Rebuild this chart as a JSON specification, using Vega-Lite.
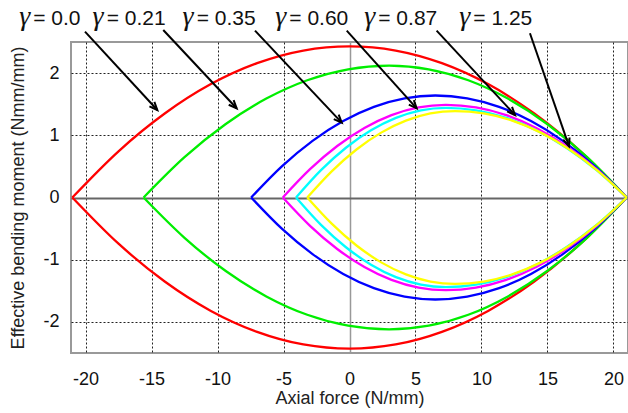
{
  "$schema": "https://vega.github.io/schema/vega-lite/v6.json",
  "width": 557,
  "height": 311,
  "autosize": {"type": "none"},
  "padding": {"left": 71, "top": 42, "right": 0, "bottom": 60},
  "background": "white",
  "config": {
    "view": {"stroke": "#999", "strokeWidth": 2},
    "font": "Liberation Sans"
  },
  "datasets": {
    "curves": [
      {"g":"0.0","s":"t","N":-21,"M":0},{"g":"0.0","s":"t","N":-17.5,"M":0.743},{"g":"0.0","s":"t","N":-14,"M":1.35},{"g":"0.0","s":"t","N":-10.5,"M":1.823},{"g":"0.0","s":"t","N":-7,"M":2.16},{"g":"0.0","s":"t","N":-3.5,"M":2.363},{"g":"0.0","s":"t","N":0,"M":2.43},{"g":"0.0","s":"t","N":3.5,"M":2.363},{"g":"0.0","s":"t","N":7,"M":2.16},{"g":"0.0","s":"t","N":10.5,"M":1.823},{"g":"0.0","s":"t","N":14,"M":1.35},{"g":"0.0","s":"t","N":17.5,"M":0.743},{"g":"0.0","s":"t","N":21,"M":0},
      {"g":"0.0","s":"b","N":-21,"M":0},{"g":"0.0","s":"b","N":-17.5,"M":-0.743},{"g":"0.0","s":"b","N":-14,"M":-1.35},{"g":"0.0","s":"b","N":-10.5,"M":-1.823},{"g":"0.0","s":"b","N":-7,"M":-2.16},{"g":"0.0","s":"b","N":-3.5,"M":-2.363},{"g":"0.0","s":"b","N":0,"M":-2.43},{"g":"0.0","s":"b","N":3.5,"M":-2.363},{"g":"0.0","s":"b","N":7,"M":-2.16},{"g":"0.0","s":"b","N":10.5,"M":-1.823},{"g":"0.0","s":"b","N":14,"M":-1.35},{"g":"0.0","s":"b","N":17.5,"M":-0.743},{"g":"0.0","s":"b","N":21,"M":0},
      {"g":"0.21","s":"t","N":-15.6,"M":0},{"g":"0.21","s":"t","N":-12.5,"M":0.648},{"g":"0.21","s":"t","N":-9.4,"M":1.178},{"g":"0.21","s":"t","N":-6.3,"M":1.59},{"g":"0.21","s":"t","N":-3.2,"M":1.885},{"g":"0.21","s":"t","N":-0.1,"M":2.061},{"g":"0.21","s":"t","N":3,"M":2.12},{"g":"0.21","s":"t","N":6,"M":2.061},{"g":"0.21","s":"t","N":9,"M":1.885},{"g":"0.21","s":"t","N":12,"M":1.59},{"g":"0.21","s":"t","N":15,"M":1.178},{"g":"0.21","s":"t","N":18,"M":0.648},{"g":"0.21","s":"t","N":21,"M":0},
      {"g":"0.21","s":"b","N":-15.6,"M":0},{"g":"0.21","s":"b","N":-12.5,"M":-0.648},{"g":"0.21","s":"b","N":-9.4,"M":-1.178},{"g":"0.21","s":"b","N":-6.3,"M":-1.59},{"g":"0.21","s":"b","N":-3.2,"M":-1.885},{"g":"0.21","s":"b","N":-0.1,"M":-2.061},{"g":"0.21","s":"b","N":3,"M":-2.12},{"g":"0.21","s":"b","N":6,"M":-2.061},{"g":"0.21","s":"b","N":9,"M":-1.885},{"g":"0.21","s":"b","N":12,"M":-1.59},{"g":"0.21","s":"b","N":15,"M":-1.178},{"g":"0.21","s":"b","N":18,"M":-0.648},{"g":"0.21","s":"b","N":21,"M":0},
      {"g":"0.35","s":"t","N":-7.45,"M":0},{"g":"0.35","s":"t","N":-5.125,"M":0.501},{"g":"0.35","s":"t","N":-2.8,"M":0.911},{"g":"0.35","s":"t","N":-0.475,"M":1.23},{"g":"0.35","s":"t","N":1.85,"M":1.458},{"g":"0.35","s":"t","N":4.175,"M":1.594},{"g":"0.35","s":"t","N":6.5,"M":1.64},{"g":"0.35","s":"t","N":8.917,"M":1.594},{"g":"0.35","s":"t","N":11.333,"M":1.458},{"g":"0.35","s":"t","N":13.75,"M":1.23},{"g":"0.35","s":"t","N":16.167,"M":0.911},{"g":"0.35","s":"t","N":18.583,"M":0.501},{"g":"0.35","s":"t","N":21,"M":0},
      {"g":"0.35","s":"b","N":-7.45,"M":0},{"g":"0.35","s":"b","N":-5.125,"M":-0.501},{"g":"0.35","s":"b","N":-2.8,"M":-0.911},{"g":"0.35","s":"b","N":-0.475,"M":-1.23},{"g":"0.35","s":"b","N":1.85,"M":-1.458},{"g":"0.35","s":"b","N":4.175,"M":-1.594},{"g":"0.35","s":"b","N":6.5,"M":-1.64},{"g":"0.35","s":"b","N":8.917,"M":-1.594},{"g":"0.35","s":"b","N":11.333,"M":-1.458},{"g":"0.35","s":"b","N":13.75,"M":-1.23},{"g":"0.35","s":"b","N":16.167,"M":-0.911},{"g":"0.35","s":"b","N":18.583,"M":-0.501},{"g":"0.35","s":"b","N":21,"M":0},
      {"g":"0.60","s":"t","N":-5.05,"M":0},{"g":"0.60","s":"t","N":-2.99,"M":0.455},{"g":"0.60","s":"t","N":-0.93,"M":0.828},{"g":"0.60","s":"t","N":1.13,"M":1.118},{"g":"0.60","s":"t","N":3.18,"M":1.325},{"g":"0.60","s":"t","N":5.24,"M":1.449},{"g":"0.60","s":"t","N":7.3,"M":1.49},{"g":"0.60","s":"t","N":9.58,"M":1.449},{"g":"0.60","s":"t","N":11.87,"M":1.325},{"g":"0.60","s":"t","N":14.15,"M":1.118},{"g":"0.60","s":"t","N":16.43,"M":0.828},{"g":"0.60","s":"t","N":18.72,"M":0.455},{"g":"0.60","s":"t","N":21,"M":0},
      {"g":"0.60","s":"b","N":-5.05,"M":0},{"g":"0.60","s":"b","N":-2.99,"M":-0.455},{"g":"0.60","s":"b","N":-0.93,"M":-0.828},{"g":"0.60","s":"b","N":1.13,"M":-1.118},{"g":"0.60","s":"b","N":3.18,"M":-1.325},{"g":"0.60","s":"b","N":5.24,"M":-1.449},{"g":"0.60","s":"b","N":7.3,"M":-1.49},{"g":"0.60","s":"b","N":9.58,"M":-1.449},{"g":"0.60","s":"b","N":11.87,"M":-1.325},{"g":"0.60","s":"b","N":14.15,"M":-1.118},{"g":"0.60","s":"b","N":16.43,"M":-0.828},{"g":"0.60","s":"b","N":18.72,"M":-0.455},{"g":"0.60","s":"b","N":21,"M":0},
      {"g":"0.87","s":"t","N":-4.05,"M":0},{"g":"0.87","s":"t","N":-2.16,"M":0.44},{"g":"0.87","s":"t","N":-0.27,"M":0.8},{"g":"0.87","s":"t","N":1.63,"M":1.08},{"g":"0.87","s":"t","N":3.52,"M":1.28},{"g":"0.87","s":"t","N":5.41,"M":1.4},{"g":"0.87","s":"t","N":7.3,"M":1.44},{"g":"0.87","s":"t","N":9.58,"M":1.4},{"g":"0.87","s":"t","N":11.87,"M":1.28},{"g":"0.87","s":"t","N":14.15,"M":1.08},{"g":"0.87","s":"t","N":16.43,"M":0.8},{"g":"0.87","s":"t","N":18.72,"M":0.44},{"g":"0.87","s":"t","N":21,"M":0},
      {"g":"0.87","s":"b","N":-4.05,"M":0},{"g":"0.87","s":"b","N":-2.16,"M":-0.44},{"g":"0.87","s":"b","N":-0.27,"M":-0.8},{"g":"0.87","s":"b","N":1.63,"M":-1.08},{"g":"0.87","s":"b","N":3.52,"M":-1.28},{"g":"0.87","s":"b","N":5.41,"M":-1.4},{"g":"0.87","s":"b","N":7.3,"M":-1.44},{"g":"0.87","s":"b","N":9.58,"M":-1.4},{"g":"0.87","s":"b","N":11.87,"M":-1.28},{"g":"0.87","s":"b","N":14.15,"M":-1.08},{"g":"0.87","s":"b","N":16.43,"M":-0.8},{"g":"0.87","s":"b","N":18.72,"M":-0.44},{"g":"0.87","s":"b","N":21,"M":0},
      {"g":"1.25","s":"t","N":-3.2,"M":0},{"g":"1.25","s":"t","N":-1.33,"M":0.425},{"g":"1.25","s":"t","N":0.53,"M":0.772},{"g":"1.25","s":"t","N":2.4,"M":1.043},{"g":"1.25","s":"t","N":4.27,"M":1.236},{"g":"1.25","s":"t","N":6.13,"M":1.351},{"g":"1.25","s":"t","N":8,"M":1.39},{"g":"1.25","s":"t","N":10.17,"M":1.351},{"g":"1.25","s":"t","N":12.33,"M":1.236},{"g":"1.25","s":"t","N":14.5,"M":1.043},{"g":"1.25","s":"t","N":16.67,"M":0.772},{"g":"1.25","s":"t","N":18.83,"M":0.425},{"g":"1.25","s":"t","N":21,"M":0},
      {"g":"1.25","s":"b","N":-3.2,"M":0},{"g":"1.25","s":"b","N":-1.33,"M":-0.425},{"g":"1.25","s":"b","N":0.53,"M":-0.772},{"g":"1.25","s":"b","N":2.4,"M":-1.043},{"g":"1.25","s":"b","N":4.27,"M":-1.236},{"g":"1.25","s":"b","N":6.13,"M":-1.351},{"g":"1.25","s":"b","N":8,"M":-1.39},{"g":"1.25","s":"b","N":10.17,"M":-1.351},{"g":"1.25","s":"b","N":12.33,"M":-1.236},{"g":"1.25","s":"b","N":14.5,"M":-1.043},{"g":"1.25","s":"b","N":16.67,"M":-0.772},{"g":"1.25","s":"b","N":18.83,"M":-0.425},{"g":"1.25","s":"b","N":21,"M":0}
    ],
    "ann": [
      {"lab":"= 0.0","lx":-23.96,"ly":2.773,"x1":-20.04,"y1":2.666,"x2":-14.56,"y2":1.407,"dir":47.3},
      {"lab":"= 0.21","lx":-18.4,"ly":2.773,"x1":-14.11,"y1":2.693,"x2":-8.55,"y2":1.434,"dir":46.8},
      {"lab":"= 0.35","lx":-11.58,"ly":2.773,"x1":-7.16,"y1":2.682,"x2":-0.59,"y2":1.203,"dir":46.7},
      {"lab":"= 0.60","lx":-4.56,"ly":2.773,"x1":-0.21,"y1":2.682,"x2":5.09,"y2":1.434,"dir":47.9},
      {"lab":"= 0.87","lx":2.18,"ly":2.773,"x1":6.6,"y1":2.682,"x2":12.54,"y2":1.326,"dir":47.1},
      {"lab":"= 1.25","lx":9.38,"ly":2.773,"x1":13.67,"y1":2.64,"x2":16.63,"y2":0.825,"dir":70.9}
    ]
  },
  "layer": [
    {
      "data": {"name": "curves"},
      "mark": {"type": "line", "interpolate": "monotone", "strokeWidth": 2.3},
      "encoding": {
        "x": {
          "field": "N", "type": "quantitative", "title": "Axial force (N/mm)",
          "scale": {"domain": [-21.1, 21.1], "nice": false, "zero": false},
          "axis": {
            "values": [-20, -15, -10, -5, 0, 5, 10, 15, 20],
            "labelExpr": "toString(datum.value)",
            "domain": false, "ticks": false, "grid": true,
            "gridColor": {"condition": {"test": "datum.value === 0", "value": "#999"}, "value": "#222"},
            "gridDash": {"condition": {"test": "datum.value === 0", "value": []}, "value": [2, 2]},
            "gridWidth": {"condition": {"test": "datum.value === 0", "value": 1.5}, "value": 1},
            "gridOpacity": 1,
            "labelFont": "Liberation Sans", "labelFontSize": 18, "labelColor": "#111",
            "labelBaseline": "alphabetic", "labelPadding": 31, "labelFlush": false,
            "titleFont": "Liberation Sans", "titleFontSize": 18, "titleFontWeight": "normal", "titleColor": "#222",
            "titleBaseline": "alphabetic", "titleY": 50
          }
        },
        "y": {
          "field": "M", "type": "quantitative", "title": "Effective bending moment (Nmm/mm)",
          "scale": {"domain": [-2.5, 2.5], "nice": false, "zero": false},
          "axis": {
            "values": [-2, -1, 0, 1, 2],
            "labelExpr": "toString(datum.value)",
            "domain": false, "ticks": false, "grid": true,
            "gridColor": {"condition": {"test": "datum.value === 0", "value": "#666"}, "value": "#222"},
            "gridDash": {"condition": {"test": "datum.value === 0", "value": []}, "value": [2, 2]},
            "gridWidth": {"condition": {"test": "datum.value === 0", "value": 2}, "value": 1},
            "gridOpacity": 1,
            "labelFont": "Liberation Sans", "labelFontSize": 18, "labelColor": "#111",
            "labelPadding": 12, "labelFlush": false,
            "titleFont": "Liberation Sans", "titleFontSize": 18, "titleFontWeight": "normal", "titleColor": "#222",
            "titleX": -53, "titleY": 155.5, "titleAngle": -90, "titleBaseline": "middle", "titleAlign": "center"
          }
        },
        "color": {
          "field": "g", "type": "nominal",
          "scale": {"domain": ["0.0", "0.21", "0.35", "0.60", "0.87", "1.25"], "range": ["#ff0000", "#00ee00", "#0000ff", "#ff00ff", "#00ffff", "#ffff00"]},
          "legend": null
        },
        "detail": {"field": "s"}
      }
    },
    {
      "data": {"name": "ann"},
      "mark": {"type": "rule", "color": "black", "strokeWidth": 2},
      "encoding": {
        "x": {"field": "x1", "type": "quantitative"},
        "y": {"field": "y1", "type": "quantitative"},
        "x2": {"field": "x2"},
        "y2": {"field": "y2"}
      }
    },
    {
      "data": {"name": "ann"},
      "mark": {"type": "point", "shape": "M-1,-0.42L0,0L-1,0.42", "filled": false, "color": "black", "strokeWidth": 2, "size": 256, "opacity": 1, "strokeJoin": "miter"},
      "encoding": {
        "x": {"field": "x2", "type": "quantitative"},
        "y": {"field": "y2", "type": "quantitative"},
        "angle": {"field": "dir", "type": "quantitative", "scale": null}
      }
    },
    {
      "data": {"name": "ann"},
      "mark": {"type": "text", "text": "γ", "font": "Liberation Serif", "fontStyle": "italic", "fontSize": 28, "align": "right", "baseline": "alphabetic", "dx": -3, "color": "#111"},
      "encoding": {
        "x": {"field": "lx", "type": "quantitative"},
        "y": {"field": "ly", "type": "quantitative"}
      }
    },
    {
      "data": {"name": "ann"},
      "mark": {"type": "text", "font": "Liberation Sans", "fontSize": 21, "align": "left", "baseline": "alphabetic", "color": "#111"},
      "encoding": {
        "x": {"field": "lx", "type": "quantitative"},
        "y": {"field": "ly", "type": "quantitative"},
        "text": {"field": "lab"}
      }
    }
  ]
}
